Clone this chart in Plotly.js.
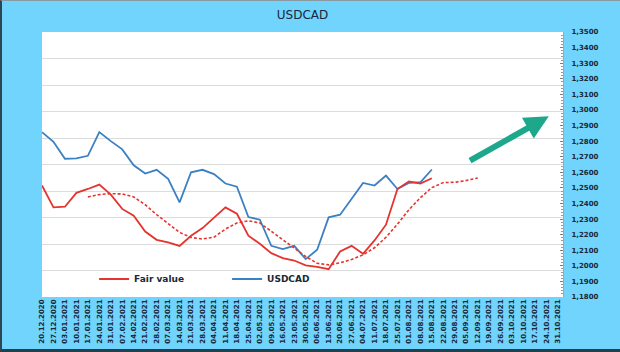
<!DOCTYPE html>
<html>
<head>
<meta charset="utf-8">
<script src="https://cdn.plot.ly/plotly-3.0.1.min.js"></script>
<style>
html,body{margin:0;padding:0;background:#70d4fc;}
#wrap{position:relative;width:620px;height:352px;overflow:hidden;}
#chart{position:absolute;left:0;top:0;width:620px;height:352px;}
#frame{position:absolute;left:0;top:0;width:620px;height:352px;box-sizing:border-box;border-left:2px solid #2d4656;border-bottom:3px solid #24404f;border-top:1px solid #8a9aa2;pointer-events:none;}
</style>
</head>
<body>
<div id="wrap"><div id="chart"></div><div id="frame"></div></div>
<script>
const dates = ["20.12.2020","27.12.2020","03.01.2021","10.01.2021","17.01.2021","24.01.2021","31.01.2021","07.02.2021","14.02.2021","21.02.2021","28.02.2021","07.03.2021","14.03.2021","21.03.2021","28.03.2021","04.04.2021","11.04.2021","18.04.2021","25.04.2021","02.05.2021","09.05.2021","16.05.2021","23.05.2021","30.05.2021","06.06.2021","13.06.2021","20.06.2021","27.06.2021","04.07.2021","11.07.2021","18.07.2021","25.07.2021","01.08.2021","08.08.2021","15.08.2021","22.08.2021","29.08.2021","05.09.2021","12.09.2021","19.09.2021","26.09.2021","03.10.2021","10.10.2021","17.10.2021","24.10.2021","31.10.2021"];

const fairValue = [1.2515,1.2375,1.2379,1.2468,1.2493,1.2521,1.2457,1.2365,1.2322,1.2220,1.2167,1.2150,1.2128,1.2193,1.2242,1.2307,1.2375,1.2334,1.2193,1.2141,1.2081,1.2049,1.2034,1.2003,1.1993,1.1978,1.2092,1.2128,1.2077,1.2163,1.2264,1.2493,1.2542,1.2528,1.2562];

const usdcad = [1.2858,1.2796,1.2687,1.2689,1.2706,1.2858,1.2800,1.2747,1.2645,1.2592,1.2616,1.2558,1.2407,1.2600,1.2616,1.2588,1.2528,1.2508,1.2313,1.2296,1.2128,1.2107,1.2128,1.2043,1.2103,1.2311,1.2328,1.2429,1.2532,1.2515,1.2579,1.2493,1.2532,1.2536,1.2618];

const fairTrendStart = 4;
const fairTrend = [1.2442,1.2457,1.2463,1.2461,1.2442,1.2392,1.2328,1.2268,1.2214,1.2182,1.2172,1.2184,1.2236,1.2275,1.2289,1.2275,1.2220,1.2167,1.2114,1.2060,1.2016,1.2006,1.2019,1.2041,1.2070,1.2116,1.2183,1.2267,1.2360,1.2437,1.2502,1.2534,1.2536,1.2547,1.2564];

const gridLevels = [0,1,2,3,4,5,6,7,8,9,10];

const RED = '#e5332f', BLUE = '#3b80c3', FONT = 'DejaVu Sans', INK = '#1a2838';

const traces = [
  {x: [null], y: [null], yaxis: 'y2', showlegend: false, hoverinfo: 'skip', mode: 'lines'},
  {x: dates.slice(0, usdcad.length), y: usdcad, name: 'USDCAD', mode: 'lines', legendrank: 2,
   line: {color: BLUE, width: 1.8}},
  {x: dates.slice(fairTrendStart, fairTrendStart + fairTrend.length), y: fairTrend, name: 'trend', mode: 'lines', showlegend: false,
   line: {color: RED, width: 1.6, dash: '3px,2px'}},
  {x: dates.slice(0, fairValue.length), y: fairValue, name: 'Fair value', mode: 'lines', legendrank: 1,
   line: {color: RED, width: 1.8}}
];

const layout = {
  width: 620, height: 352,
  paper_bgcolor: '#70d4fc', plot_bgcolor: '#ffffff',
  margin: {l: 42, r: 57, t: 32, b: 55},
  separators: ', ',
  font: {family: FONT, color: INK},
  title: {text: 'USDCAD', font: {family: FONT, size: 12, color: INK}, x: 0.5, xref: 'paper', xanchor: 'center', y: 0.957, yref: 'container', yanchor: 'middle'},
  xaxis: {type: 'category', categoryorder: 'array', categoryarray: dates, tickvals: dates, ticktext: dates,
    range: [0, 45.44], tickangle: -90, showgrid: false, zeroline: false, showline: false, ticks: '',
    tickfont: {family: FONT, size: 7, color: INK, weight: 'bold'}},
  yaxis: {side: 'right', range: [1.18, 1.35], dtick: 0.01, tick0: 1.18, tickformat: '.4f', showgrid: false, zeroline: false,
    showline: true, linecolor: '#a6a6a6', linewidth: 1, ticks: 'inside', ticklen: 3, tickcolor: '#7f7f7f',
    minor: {dtick: 0.002, ticks: 'inside', ticklen: 2, tickcolor: '#9a9a9a'},
    tickfont: {family: FONT, size: 7, color: INK, weight: 'bold'}, ticklabelstandoff: 6},
  yaxis2: {overlaying: 'y', side: 'left', range: [gridLevels[0], gridLevels[gridLevels.length-1]], tickvals: gridLevels,
    showticklabels: false, ticks: '', showgrid: true, gridcolor: '#dcdcdc', gridwidth: 1, zeroline: false, showline: false},
  showlegend: true,
  legend: {orientation: 'h', x: 0.1, xanchor: 'left', y: 0.068, yanchor: 'middle', bgcolor: 'rgba(0,0,0,0)',
    font: {family: FONT, size: 9, color: INK, weight: 'bold'}, entrywidthmode: 'pixels', entrywidth: 88, traceorder: 'normal'},
  annotations: [{x: 44.2, y: 1.2959, xref: 'x', yref: 'y', ax: 37.2, ay: 1.2669, axref: 'x', ayref: 'y',
    text: '', showarrow: true, arrowhead: 2, arrowsize: 0.8, arrowwidth: 6, arrowcolor: '#1ea88b'}]
};

Plotly.newPlot('chart', traces, layout, {displayModeBar: false, staticPlot: true});
</script>
</body>
</html>
